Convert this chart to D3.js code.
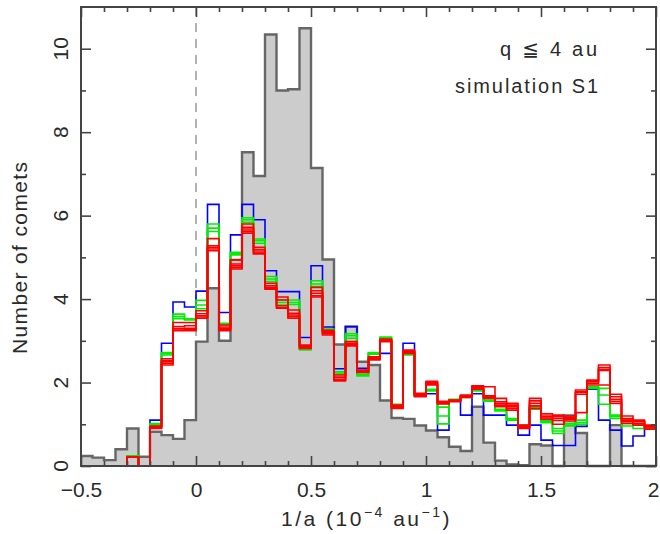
<!DOCTYPE html>
<html><head><meta charset="utf-8">
<script src="https://cdn.jsdelivr.net/npm/d3@7"></script>
<style>
html,body{margin:0;padding:0;background:#fff;}
svg{display:block;}
text{font-family:"Liberation Sans","DejaVu Sans",sans-serif;fill:#2a2a2a;}
</style></head>
<body>
<svg id="c" width="660" height="534"></svg>
<script>
// ---- data ----
const binStart = -0.5, binWidth = 0.05, nBins = 50;
const gray = [0.24,0.20,0.14,0.40,0.90,0.22,0.82,0.74,0.65,1.10, 2.98,4.26,3.00,4.94,7.52,6.95,10.34,9.00,9.03,10.49, 7.14,4.95,2.91,3.34,2.50,2.42,1.57,1.15,1.13,0.97, 0.85,0.69,0.46,0.36,1.42,0.56,0.13,0.04,0.02,0.52, 0.49,0,1.21,0.79,0,0,0.98,0,0,0];
const blue = [0,0,0,0,0.24,0,1.10,2.94,3.93,3.81, 4.19,6.27,3.68,5.54,6.27,5.90,4.68,4.18,4.18,3.08, 4.80,3.33,2.33,3.34,2.34,2.70,2.70,1.42,2.94,1.73, 1.73,0.86,1.58,1.22,1.73,1.22,1.22,0.98,0.74,0.98, 0.62,0.49,0.49,0.95,1.84,1.10,0.86,0.48,0.72,0.90];
const green1 = [0,0,0,0,0.24,0,1.02,2.72,3.64,3.53, 3.97,5.80,3.42,5.12,5.95,5.44,4.54,3.98,3.98,2.78, 4.44,3.28,2.26,3.17,2.16,2.72,3.09,1.48,2.66,1.70, 1.84,1.41,1.60,1.68,1.84,1.58,1.36,1.14,0.98,1.42, 1.10,0.90,1.02,1.10,1.90,1.86,1.22,1.10,1.08,0.94];
const green2 = [0,0,0,0,0.24,0,1.00,2.69,3.58,3.53, 3.86,5.70,3.40,5.09,5.90,5.40,4.48,3.92,3.92,2.80, 4.36,3.26,2.23,3.12,2.18,2.70,3.07,1.46,2.68,1.69, 1.82,1.20,1.58,1.66,1.82,1.56,1.34,1.12,0.96,1.38, 1.07,0.84,0.98,1.04,1.88,1.70,1.18,1.02,1.00,0.92];
const green3 = [0,0,0,0,0.24,0,0.98,2.66,3.53,3.50, 3.77,5.62,3.38,5.06,5.84,5.34,4.42,3.86,3.87,2.82, 4.30,3.24,2.20,3.06,2.20,2.68,3.05,1.44,2.70,1.68, 1.80,1.01,1.56,1.64,1.80,1.55,1.32,1.10,0.94,1.36, 1.04,0.78,0.96,1.00,1.86,1.48,1.14,0.96,0.90,0.90];
const red1 = [0,0,0,0,0.21,0,0.96,2.57,3.44,3.44, 3.72,5.45,3.38,4.94,5.80,5.24,4.38,4.05,3.74,2.90, 4.28,3.25,2.18,2.98,2.30,2.62,3.04,1.46,2.78,1.74, 2.03,1.55,1.58,1.70,1.92,1.90,1.62,1.50,0.98,1.62, 1.25,1.22,1.20,1.82,2.06,2.42,1.72,1.20,1.10,0.98];
const red2 = [0,0,0,0,0.21,0,0.94,2.53,3.34,3.36, 3.65,5.28,3.33,4.84,5.72,5.18,4.32,3.98,3.66,2.88, 4.20,3.22,2.13,2.94,2.28,2.60,3.02,1.44,2.76,1.72, 2.00,1.53,1.57,1.68,1.90,1.68,1.54,1.46,0.95,1.56, 1.20,1.18,1.16,1.78,2.04,2.36,1.66,1.14,1.08,0.96];
const red3 = [0,0,0,0,0.21,0,0.93,2.50,3.29,3.30, 3.60,5.24,3.30,4.80,5.68,5.13,4.28,3.84,3.62,2.86, 4.14,3.20,2.08,2.92,2.26,2.58,3.00,1.42,2.74,1.70, 1.98,1.51,1.56,1.67,1.89,1.66,1.50,1.42,0.94,1.50, 1.18,1.14,1.14,1.76,2.02,2.32,1.60,1.10,1.06,0.94];
const red4 = [0,0,0,0,0.21,0,0.92,2.46,3.26,3.27, 3.57,5.20,3.28,4.76,5.63,5.10,4.26,3.80,3.58,2.84, 4.08,3.17,2.06,2.90,2.25,2.56,2.99,1.40,2.72,1.68, 1.96,1.50,1.55,1.66,1.86,1.64,1.46,1.38,0.92,1.44, 1.15,1.09,1.12,1.72,1.98,2.29,1.55,1.06,1.02,0.91];
const red5 = [0,0,0,0,0.21,0,0.90,2.42,3.24,3.24, 3.54,5.16,3.24,4.72,5.58,5.08,4.24,3.78,3.54,2.82, 4.05,3.14,2.04,2.88,2.24,2.54,2.98,1.38,2.70,1.66, 1.94,1.49,1.54,1.64,1.84,1.62,1.42,1.34,0.90,1.38, 1.12,1.00,1.08,1.28,1.94,1.94,1.50,1.02,0.98,0.88];
const xMajorTicks = [-0.5,0,0.5,1,1.5,2];
const xTickLabels = ["\u22120.5","0","0.5","1","1.5","2"];
const yMajorTicks = [0,2,4,6,8,10];
const yTickLabels = ["0","2","4","6","8","10"];
const xDomain = [-0.5,2], yDomain = [0,11];

// ---- chart ----
const svg = d3.select("#c");
const L=81, R=656, T=7, B=466;
const x = d3.scaleLinear().domain(xDomain).range([L,R]);
const y = d3.scaleLinear().domain(yDomain).range([B,T]);
const edges = d3.range(nBins+1).map(i => +(binStart + i*binWidth).toFixed(4));

function stepData(vals){
  const pts = vals.map((v,i)=>({e:edges[i], v}));
  pts.push({e:edges[nBins], v:vals[nBins-1]});
  return pts;
}
const line = d3.line().x(d=>x(d.e)).y(d=>y(d.v)).curve(d3.curveStepAfter);
const area = d3.area().x(d=>x(d.e)).y0(y(0)).y1(d=>y(d.v)).curve(d3.curveStepAfter);

// dashed zero line
svg.append("line").attr("x1",x(0)).attr("x2",x(0)).attr("y1",T).attr("y2",B)
  .attr("stroke","#999").attr("stroke-width",1.5).attr("stroke-dasharray","9,7");

// gray histogram
svg.append("path").datum(stepData(gray)).attr("d",area).attr("fill","#cccccc");
svg.append("path").datum(stepData(gray)).attr("d",line).attr("fill","none")
  .attr("stroke","#666").attr("stroke-width",2.4);

const series = [
  {vals:blue, c:"#0000ff"},
  {vals:green1, c:"#00ee00"},{vals:green2, c:"#00ee00"},{vals:green3, c:"#00ee00"},
  {vals:red1, c:"#ff0000"},{vals:red2, c:"#ff0000"},{vals:red3, c:"#ff0000"},{vals:red4, c:"#ff0000"},{vals:red5, c:"#ff0000"}
];
series.forEach(s=>{
  svg.append("path").datum(stepData(s.vals)).attr("d",line).attr("fill","none")
    .attr("stroke",s.c).attr("stroke-width",1.6);
});

// axes ticks
const axColor="#444";
const xMinor = d3.range(-5,21).map(i=>i/10).filter(v=>!xMajorTicks.some(m=>Math.abs(m-v)<1e-9));
const yMinor = d3.range(1,11,2);
function ticks(g){ g.select(".domain").remove(); g.selectAll(".tick line").attr("stroke",axColor).attr("stroke-width",1.6); }

svg.append("g").attr("transform",`translate(0,${B})`)
  .call(d3.axisBottom(x).tickValues(xMajorTicks).tickSize(-10).tickPadding(16).tickFormat((d,i)=>xTickLabels[i]))
  .call(ticks).call(g=>g.selectAll("text").attr("font-size",21).attr("fill","#2a2a2a")
     .attr("font-family","Liberation Sans, DejaVu Sans, sans-serif")
     .attr("dx",(d,i)=> i===xMajorTicks.length-1 ? -3 : 0));
svg.append("g").attr("transform",`translate(0,${B})`)
  .call(d3.axisBottom(x).tickValues(xMinor).tickSize(-5).tickFormat("")).call(ticks);
svg.append("g").attr("transform",`translate(0,${T})`)
  .call(d3.axisTop(x).tickValues(xMajorTicks).tickSize(-10).tickFormat("")).call(ticks);
svg.append("g").attr("transform",`translate(0,${T})`)
  .call(d3.axisTop(x).tickValues(xMinor).tickSize(-5).tickFormat("")).call(ticks);
svg.append("g").attr("transform",`translate(${L},0)`)
  .call(d3.axisLeft(y).tickValues(yMajorTicks).tickSize(-10).tickFormat("")).call(ticks);
svg.append("g").attr("transform",`translate(${L},0)`)
  .call(d3.axisLeft(y).tickValues(yMinor).tickSize(-5).tickFormat("")).call(ticks);
svg.append("g").attr("transform",`translate(${R},0)`)
  .call(d3.axisRight(y).tickValues(yMajorTicks).tickSize(-10).tickFormat("")).call(ticks);
svg.append("g").attr("transform",`translate(${R},0)`)
  .call(d3.axisRight(y).tickValues(yMinor).tickSize(-5).tickFormat("")).call(ticks);

// frame
svg.append("rect").attr("x",L).attr("y",T).attr("width",R-L).attr("height",B-T)
  .attr("fill","none").attr("stroke",axColor).attr("stroke-width",2);

// y tick labels (rotated)
yMajorTicks.forEach((v,i)=>{
  svg.append("text").attr("transform",`translate(68,${y(v)}) rotate(-90)`)
    .attr("text-anchor","middle").attr("font-size",21).text(yTickLabels[i]);
});

// axis titles
svg.append("text").attr("transform","translate(27,258) rotate(-90)")
  .attr("text-anchor","middle").attr("font-size",21)
  .attr("textLength",192).attr("lengthAdjust","spacing").text("Number of comets");

const xt = svg.append("text").attr("x",281).attr("y",526).attr("font-size",21).attr("letter-spacing",2.5);
xt.append("tspan").text("1/a (10");
xt.append("tspan").attr("dy",-9).attr("font-size",14).text("\u22124");
xt.append("tspan").attr("dy",9).text(" au");
xt.append("tspan").attr("dy",-9).attr("font-size",14).text("\u22121");
xt.append("tspan").attr("dy",9).text(")");

// annotations
svg.append("text").attr("x",500).attr("y",56).attr("font-size",20)
  .attr("textLength",97).attr("lengthAdjust","spacing").text("q \u2266 4 au");
svg.append("text").attr("x",455).attr("y",93).attr("font-size",20)
  .attr("textLength",143).attr("lengthAdjust","spacing").text("simulation S1");
</script>
</body></html>
